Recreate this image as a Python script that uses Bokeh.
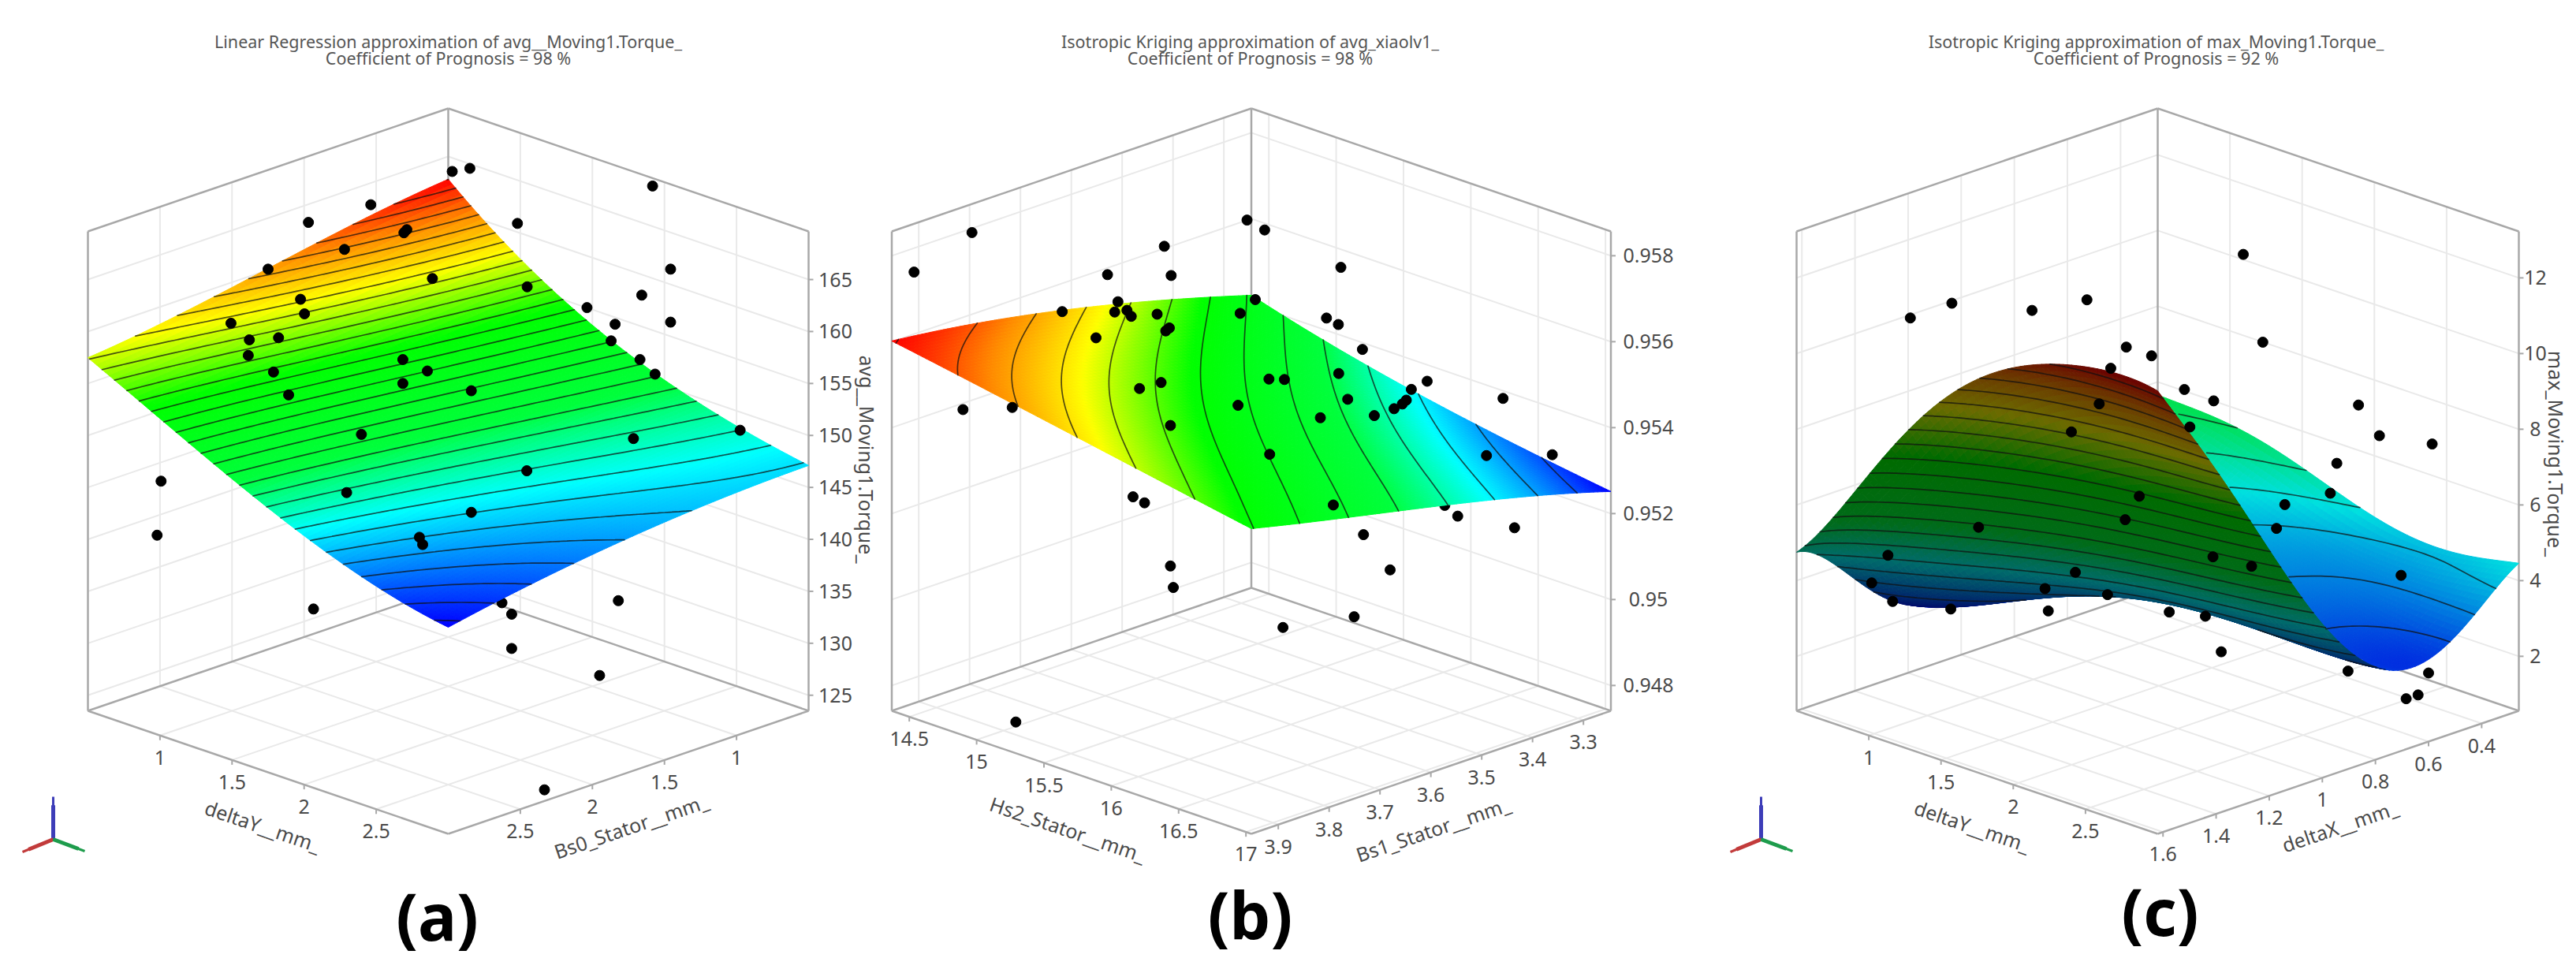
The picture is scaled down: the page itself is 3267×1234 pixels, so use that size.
import numpy as np
from numpy.polynomial import polynomial as npoly
from bokeh.plotting import figure
from bokeh.models import Range1d, ColumnDataSource
from bokeh.core.properties import value
from bokeh.embed import file_html
from bokeh.resources import INLINE

# ---------------------------------------------------------------- panel (a)
a_title = ["Linear Regression approximation of avg__Moving1.Torque_", "Coefficient of Prognosis = 98 %"]
a_x_name, a_y_name, a_z_name = "deltaY__mm_", "Bs0_Stator__mm_", "avg__Moving1.Torque_"
a_x_ticks = [1, 1.5, 2, 2.5]
a_y_ticks = [1, 1.5, 2, 2.5]
a_z_ticks = [125, 130, 135, 140, 145, 150, 155, 160, 165]
a_surface = [
    [162.8, 161.7, 160.1, 158.6, 157.4],
    [156.4, 155.6, 154.6, 153.9, 153.4],
    [151.9, 151.2, 150.4, 149.5, 148.5],
    [149.0, 148.4, 147.6, 146.8, 145.8],
    [147.1, 146.8, 146.0, 144.9, 143.3],
]
# lateral = (x axis fraction - y axis fraction); height = value read at mid depth
a_lateral = [.011, .06, .567, -.215, -.388, .192, -.115, -.123, -.288, -.5, .617, -.044, .219, .537, -.41, .385,
             -.399, -.603, .463, .617, -.471, -.552, .452, -.555, -.126, .532, -.058, -.485, .574, -.126, .064,
             -.443, -.241, .514, .81, .218, -.797, -.282, .064, -.808, -.08, -.071, -.374, .472, .176, .176, .42, .267]
a_height = [175.4, 175.7, 174.0, 172.2, 170.5, 170.4, 169.8, 169.5, 167.9, 166.0, 166.0, 165.1, 164.3, 163.5, 163.1,
            162.3, 161.7, 160.8, 160.7, 160.9, 159.4, 159.2, 159.1, 157.7, 157.3, 157.3, 156.2, 156.1, 155.9, 155.0,
            154.3, 153.9, 150.1, 149.7, 150.5, 146.6, 145.6, 144.5, 142.6, 140.4, 140.2, 139.5, 133.3, 134.1, 132.8,
            129.5, 126.9, 115.9]
a_hidden_lateral = [.149]
a_hidden_height = [133.9]

# ---------------------------------------------------------------- panel (b)
b_title = ["Isotropic Kriging approximation of avg_xiaolv1_", "Coefficient of Prognosis = 98 %"]
b_x_name, b_y_name, b_z_name = "Hs2_Stator__mm_", "Bs1_Stator__mm_", None
b_x_ticks = [14.5, 15, 15.5, 16, 16.5, 17]
b_y_ticks = [3.3, 3.4, 3.5, 3.6, 3.7, 3.8, 3.9]
b_z_ticks = [0.948, 0.95, 0.952, 0.954, 0.956, 0.958]
b_surface = [
    [.95422, .95480, .95535, .95572, .95602],
    [.95365, .95422, .95470, .95520, .95565],
    [.95318, .95375, .95425, .95478, .95527],
    [.95283, .95340, .95388, .95438, .95489],
    [.95251, .95311, .95357, .95405, .95451],
]
b_lateral = [-.012, .037, -.777, -.242, .249, -.938, -.4, -.223, -.371, .011, -.526, -.38, -.346, -.334, -.262, -.031,
             .209, .242, -.228, -.238, -.432, .309, .243, .049, .092, .489, -.251, -.311, .445, .431, .42, .397, .268,
             .7, -.802, -.665, -.037, .342, .192, -.225, .051, .654, .837, -.329, -.297, .228, .574, .732, .312, .386,
             -.225, -.217, .286, .088, -.655]
b_height = [.95883, .95860, .95854, .95822, .95773, .95762, .95756, .95754, .95693, .95698, .95670, .95669, .95673,
            .95659, .95664, .95666, .95655, .95640, .95632, .95625, .95609, .95582, .95526, .95513, .95512, .95508,
            .95505, .95491, .95489, .95464, .95455, .95444, .95466, .95468, .95442, .95447, .95452, .95428, .95423,
            .95405, .95338, .95335, .95337, .95239, .95225, .95220, .95194, .95167, .95151, .95069, .95078, .95028,
            .94960, .94935, .94715]
b_hidden_lateral = [.137, .538]
b_hidden_height = [.95204, .95219]

# ---------------------------------------------------------------- panel (c)
c_title = ["Isotropic Kriging approximation of max_Moving1.Torque_", "Coefficient of Prognosis = 92 %"]
c_x_name, c_y_name, c_z_name = "deltaY__mm_", "deltaX__mm_", "max_Moving1.Torque_"
c_x_ticks = [1, 1.5, 2, 2.5]
c_y_ticks = [0.4, 0.6, 0.8, 1, 1.2, 1.4, 1.6]
c_z_ticks = [2, 4, 6, 8, 10, 12]
c_surface = [
    [5.66, 5.06, 3.86, 2.56, 2.26, 3.46, 4.75],
    [5.56, 4.66, 3.76, 2.86, 2.86, 4.56, 6.96],
    [5.26, 4.16, 3.56, 3.36, 3.66, 6.16, 9.26],
    [4.66, 3.76, 3.46, 3.56, 4.66, 7.76, 10.96],
    [4.26, 3.46, 3.26, 3.56, 5.36, 8.76, 11.86],
    [4.16, 3.26, 2.86, 3.66, 5.96, 9.36, 12.31],
    [4.46, 3.16, 2.71, 4.03, 6.62, 9.56, 12.26],
]
c_lateral = [.237, .291, -.685, -.57, -.348, -.196, -.087, -.017, -.13, .074, .155, .556, -.162, .089, .614, .76, -.239,
             .496, .478, -.051, .352, -.09, .329, -.496, .153, -.747, .26, -.228, .674, -.792, -.734, -.312, -.139,
             -.573, -.303, .032, .132, .176, .75, .721, .688]
c_height = [12.62, 10.30, 10.94, 11.33, 11.14, 11.42, 10.17, 9.94, 9.61, 9.05, 8.75, 8.64, 8.67, 8.06, 7.83, 7.61, 7.93,
            7.10, 6.31, 6.23, 6.01, 5.61, 5.38, 5.41, 4.63, 4.67, 4.38, 4.22, 4.14, 3.94, 3.45, 3.79, 3.63, 3.25, 3.20,
            3.17, 3.06, 2.12, 1.56, .98, .88]
c_hidden_lateral = [-.531, .527]
c_hidden_height = [3.53, 1.61]

# ---------------------------------------------------------------- geometry / style
FLOOR_BACK, FLOOR_D, WALL = 745.0, 156.0, 608.0
TITLE_FONT, LABEL_FONT = value("Noto Sans"), value("Noto Sans")
GRID, FRAME, TEXT = "#e9e9e9", "#a8a8a8", "#4a4a4a"
DARK = 0.42
STOPS = [0, .22, .36, .58, .75, .88, 1]
RGB = [(0, 0, 255), (0, 255, 255), (0, 255, 60), (0, 255, 0), (255, 255, 0), (255, 140, 0), (255, 0, 0)]

panels = [
    dict(title=a_title, names=(a_x_name, a_y_name, a_z_name), xt=a_x_ticks, yt=a_y_ticks, zt=a_z_ticks, surf=a_surface,
         lat=a_lateral, hgt=a_height, hlat=a_hidden_lateral, hhgt=a_hidden_height,
         cx=568, H=457, k=13.18, zf=123.5, xr=(.5, 3), yr=(.5, 3), step=.6, first=143.6, deg=3, lit=1.0,
         title_x=568, zlab_x=1099, zlab_y=582, xlab=(333, 1047), ylab=(800, 1047),
         ztick_x=1059, tag="(a)", tag_pos=(554, 1160), triad=67),
    dict(title=b_title, names=(b_x_name, b_y_name, b_z_name), xt=b_x_ticks, yt=b_y_ticks, zt=b_z_ticks, surf=b_surface,
         lat=b_lateral, hgt=b_height, hlat=b_hidden_lateral, hhgt=b_hidden_height,
         cx=1586.5, H=456, k=54500.0, zf=.94741, xr=(14.37, 17.04), yr=(3.246, 3.953), step=.00025, first=.95275, deg=3,
         lit=1.0, title_x=1585, zlab_x=None, zlab_y=None, xlab=(1354, 1051), ylab=(1817, 1051),
         ztick_x=2090, tag="(b)", tag_pos=(1585, 1158), triad=None),
    dict(title=c_title, names=(c_x_name, c_y_name, c_z_name), xt=c_x_ticks, yt=c_y_ticks, zt=c_z_ticks, surf=c_surface,
         lat=c_lateral, hgt=c_height, hlat=c_hidden_lateral, hhgt=c_hidden_height,
         cx=2736, H=458, k=48.0, zf=.56, xr=(.5, 3), yr=(.26, 1.62), step=.5, first=3.0, deg=5, lit=0.88,
         title_x=2734, zlab_x=3241, zlab_y=575, xlab=(2501, 1047), ylab=(2967, 1047),
         ztick_x=3215, tag="(c)", tag_pos=(2739, 1154), triad=2233),
]

p = figure(width=3267, height=1218, x_range=Range1d(0, 3267), y_range=Range1d(1218, 0),
           x_axis_type=None, y_axis_type=None, output_backend="svg", toolbar_location=None, min_border=0)
p.grid.visible = False
p.outline_line_color = None
p.background_fill_color = "white"


def project(P, a, b, z):
    a, b, z = np.asarray(a, float), np.asarray(b, float), np.asarray(z, float)
    return P["cx"] + (a - b) * P["H"], FLOOR_BACK + (a + b) * FLOOR_D - (z - P["zf"]) * P["k"]


def frac(rng, v):
    return (np.asarray(v, float) - rng[0]) / (rng[1] - rng[0])


def colors(v):
    return np.stack([np.interp(v, STOPS, [c[i] for c in RGB]) for i in range(3)], -1)


def fit_surface(Z, deg):
    """Smooth polynomial through the values read on a coarse grid."""
    ta = np.linspace(0, 1, Z.shape[0])
    tb = np.linspace(0, 1, Z.shape[1])
    A, B = np.meshgrid(ta, tb, indexing="ij")
    V = npoly.polyvander2d(A.ravel(), B.ravel(), [deg, deg])
    coef, *_ = np.linalg.lstsq(V, Z.ravel(), rcond=None)
    c = coef.reshape(deg + 1, deg + 1)
    return lambda u, v: npoly.polygrid2d(u, v, c)


def contour_segments(A, B, Z, level):
    zmin = np.minimum.reduce([Z[:-1, :-1], Z[1:, :-1], Z[:-1, 1:], Z[1:, 1:]])
    zmax = np.maximum.reduce([Z[:-1, :-1], Z[1:, :-1], Z[:-1, 1:], Z[1:, 1:]])
    out = []
    for i, j in np.argwhere((zmin < level) & (zmax >= level)):
        c = [(A[i], B[j], Z[i, j]), (A[i + 1], B[j], Z[i + 1, j]),
             (A[i + 1], B[j + 1], Z[i + 1, j + 1]), (A[i], B[j + 1], Z[i, j + 1])]
        pts = []
        for q in range(4):
            p0, p1 = c[q], c[(q + 1) % 4]
            if (p0[2] - level) * (p1[2] - level) < 0:
                t = (level - p0[2]) / (p1[2] - p0[2])
                pts.append((p0[0] + t * (p1[0] - p0[0]), p0[1] + t * (p1[1] - p0[1])))
        for m in range(0, len(pts) - 1, 2):
            out.append((pts[m], pts[m + 1]))
    return out


def draw_scene(P):
    top = P["zf"] + WALL / P["k"]
    xf, yf = frac(P["xr"], P["xt"]), frac(P["yr"], P["yt"])
    zt = np.array(P["zt"], float)

    gx, gy = [], []
    def seg(a0, b0, z0, a1, b1, z1):
        x, y = project(P, [a0, a1], [b0, b1], [z0, z1])
        gx.append(list(x)); gy.append(list(y))
    for f in xf:
        seg(f, 0, P["zf"], f, 1, P["zf"]); seg(f, 0, P["zf"], f, 0, top)
    for f in yf:
        seg(0, f, P["zf"], 1, f, P["zf"]); seg(0, f, P["zf"], 0, f, top)
    for z in zt:
        seg(0, 1, z, 0, 0, z); seg(0, 0, z, 1, 0, z)
    p.multi_line(gx, gy, line_color=GRID, line_width=2)

    gx, gy = [], []
    seg(0, 1, top, 0, 0, top); seg(0, 0, top, 1, 0, top)
    seg(0, 1, P["zf"], 0, 1, top); seg(1, 0, P["zf"], 1, 0, top); seg(0, 0, P["zf"], 0, 0, top)
    seg(0, 1, P["zf"], 1, 1, P["zf"]); seg(1, 0, P["zf"], 1, 1, P["zf"])
    seg(0, 1, P["zf"], 0, 0, P["zf"]); seg(0, 0, P["zf"], 1, 0, P["zf"])
    p.multi_line(gx, gy, line_color=FRAME, line_width=2.5)

    tx, ty = [], []
    lx, ly, lt = [], [], []
    X, Y = project(P, xf, np.ones_like(xf), P["zf"])
    for xx, yy, v in zip(X, Y, P["xt"]):
        tx.append([xx, xx]); ty.append([yy, yy + 6])
        lx.append(xx); ly.append(yy + 28); lt.append(f"{v:g}")
    X, Y = project(P, np.ones_like(yf), yf, P["zf"])
    for xx, yy, v in zip(X, Y, P["yt"]):
        tx.append([xx, xx]); ty.append([yy, yy + 6])
        lx.append(xx); ly.append(yy + 28); lt.append(f"{v:g}")
    X, Y = project(P, np.ones_like(zt), np.zeros_like(zt), zt)
    for xx, yy, v in zip(X, Y, P["zt"]):
        tx.append([xx, xx + 6]); ty.append([yy, yy])
        lx.append(P["ztick_x"]); ly.append(yy); lt.append(f"{v:g}")
    p.multi_line(tx, ty, line_color=FRAME, line_width=2)
    p.text(lx, ly, text=lt, text_font=LABEL_FONT, text_font_size="25px", text_color=TEXT,
           text_align="center", text_baseline="middle")

    p.text([P["xlab"][0]], [P["xlab"][1]], text=[P["names"][0]], angle=[-18.8], angle_units="deg",
           text_font=LABEL_FONT, text_font_size="25px", text_color=TEXT, text_align="center", text_baseline="middle")
    p.text([P["ylab"][0]], [P["ylab"][1]], text=[P["names"][1]], angle=[18.8], angle_units="deg",
           text_font=LABEL_FONT, text_font_size="25px", text_color=TEXT, text_align="center", text_baseline="middle")
    if P["names"][2]:
        p.text([P["zlab_x"]], [P["zlab_y"]], text=[P["names"][2]], angle=[-90], angle_units="deg",
               text_font=LABEL_FONT, text_font_size="25px", text_color=TEXT, text_align="center", text_baseline="middle")

    p.text([P["title_x"]] * 2, [52, 73], text=P["title"], text_font=TITLE_FONT, text_font_size="21.5px",
           text_color="#555555", text_align="center", text_baseline="middle")
    p.text([P["tag_pos"][0]], [P["tag_pos"][1]], text=[P["tag"]], text_font=LABEL_FONT, text_font_size="82px",
           text_font_style="bold", text_color="black", text_align="center", text_baseline="middle")

    la, hh = np.array(P["hlat"]), np.array(P["hhgt"])
    X, Y = project(P, .5 + la / 2, .5 - la / 2, hh)
    p.scatter(X, Y, size=13, color="black")

    # surface
    fn = fit_surface(np.array(P["surf"], float), P["deg"])
    N = 84
    T = np.linspace(0, 1, N + 1)
    Z = fn(T, T)
    AA, BB = np.meshgrid(T, T, indexing="ij")
    SX, SY = project(P, AA, BB, Z)
    zlo, zhi = Z.min(), Z.max()

    Tf = np.linspace(0, 1, 801)
    Zf = fn(Tf, Tf)
    Af, Bf = np.meshgrid(Tf, Tf, indexing="ij")
    Xf, Yf = project(P, Af, Bf, Zf)
    buf = np.full((700, 1700), -9.0)
    ox = int(P["cx"]) - 1700
    np.maximum.at(buf, ((Yf / 2).astype(int).ravel().clip(0, 699), ((Xf - ox) / 2).astype(int).ravel().clip(0, 1699)),
                  (Af + Bf).ravel())

    x00, y00 = SX[:-1, :-1], SY[:-1, :-1]
    x10, y10 = SX[1:, :-1], SY[1:, :-1]
    x11, y11 = SX[1:, 1:], SY[1:, 1:]
    x01, y01 = SX[:-1, 1:], SY[:-1, 1:]
    cross = (x11 - x00) * (y01 - y10) - (y11 - y00) * (x01 - x10)
    zc = (Z[:-1, :-1] + Z[1:, :-1] + Z[:-1, 1:] + Z[1:, 1:]) / 4
    rgb = colors((zc - zlo) / (zhi - zlo))
    rgb = np.where((cross < 0)[..., None], rgb * DARK, rgb * P["lit"])
    depth = (AA[:-1, :-1] + BB[:-1, :-1]).ravel()
    order = np.argsort(depth, kind="stable")
    xs = np.stack([x00, x10, x11, x01], -1).reshape(-1, 4)[order]
    ys = np.stack([y00, y10, y11, y01], -1).reshape(-1, 4)[order]
    cols = ["#%02x%02x%02x" % tuple(int(v) for v in c) for c in rgb.reshape(-1, 3)[order]]
    # drop only the quads of which no corner can be seen
    mx = ((xs - ox) / 2).astype(int).clip(0, 1699)
    my = (ys / 2).astype(int).clip(0, 699)
    keep = np.any(depth[order][:, None] >= buf[my, mx] - 0.15, axis=1)
    src = ColumnDataSource(dict(xs=[list(v) for v in xs[keep]], ys=[list(v) for v in ys[keep]],
                                c=[c for c, k in zip(cols, keep) if k]))
    p.patches("xs", "ys", source=src, fill_color="c", line_color="c", line_width=1)

    lev = P["first"]
    while lev < zhi:
        lx, ly = [], []
        for (a0, b0), (a1, b1) in contour_segments(T, T, Z, lev):
            x, y = project(P, [a0, a1], [b0, b1], [lev, lev])
            px = int(((x[0] + x[1]) / 2 - ox) / 2)
            py = int((y[0] + y[1]) / 4)
            if (a0 + a1 + b0 + b1) / 2 >= buf[min(max(py, 0), 699), min(max(px, 0), 1699)] - 0.05:
                lx += [x[0], x[1], np.nan]
                ly += [y[0], y[1], np.nan]
        if lx:
            p.line(lx, ly, line_color="#111111", line_alpha=0.72, line_width=1.7, line_cap="round")
        lev += P["step"]

    la, hh = np.array(P["lat"]), np.array(P["hgt"])
    X, Y = project(P, .5 + la / 2, .5 - la / 2, hh)
    p.scatter(X, Y, size=13, color="black")

    if P["triad"] is not None:
        o = P["triad"]
        for (dx, dy, c) in ((0, -54, "#3d3db8"), (-39, 16, "#c23b3b"), (40, 15, "#1e9c4c")):
            p.segment([o], [1064], [o + dx * .8], [1064 + dy * .8], line_color=c, line_width=5)
            p.segment([o], [1064], [o + dx], [1064 + dy], line_color=c, line_width=3)


for P in panels:
    draw_scene(P)

open("out.html", "w").write(file_html(p, INLINE))
